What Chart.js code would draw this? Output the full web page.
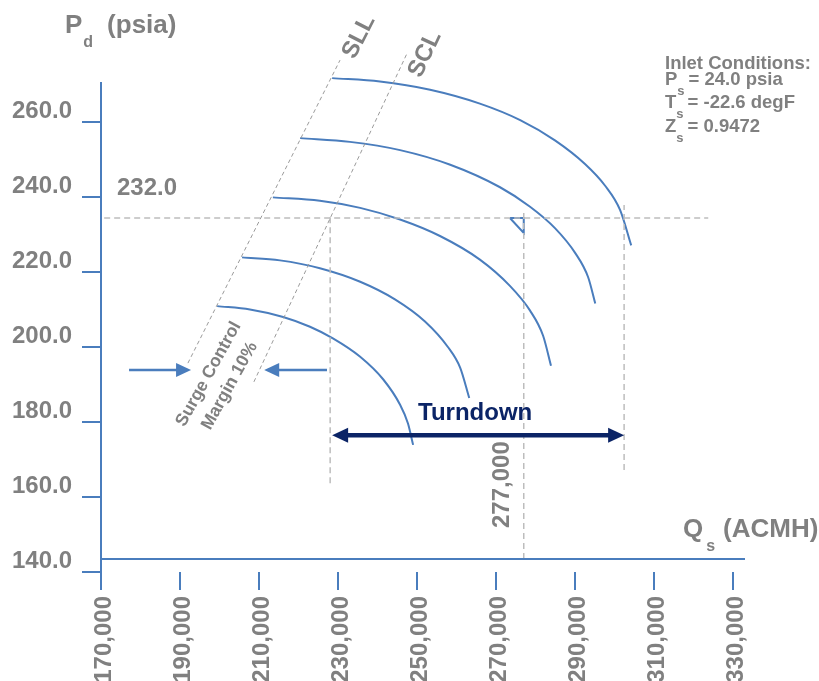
<!DOCTYPE html>
<html>
<head>
<meta charset="utf-8">
<script src="https://cdn.jsdelivr.net/npm/chart.js@4.4.1/dist/chart.umd.min.js"></script>
<style>
  html, body { margin: 0; padding: 0; background: #fff; }
  canvas { display: block; }
</style>
</head>
<body>
<canvas id="compressor-map" width="819" height="681"></canvas>
<script>
const qTicks = [170000, 190000, 210000, 230000, 250000, 270000, 290000, 310000, 330000];
const pTicks = [140, 160, 180, 200, 220, 240, 260];

// speed lines, Qs (ACMH) vs Pd (psia)
const speed1Q = [228500, 240600, 253300, 265900, 276100, 284900, 292500, 297600, 301400, 304200];
const speed1P = [271.7, 270.8, 268.6, 264.9, 260.5, 255.1, 248.8, 243.0, 236.5, 227.1];
const speed2Q = [220400, 233000, 245700, 258400, 271000, 278600, 284900, 290000, 293300, 295100];
const speed2P = [255.7, 254.7, 252.5, 248.6, 242.6, 237.4, 231.7, 225.1, 218.6, 211.6];
const speed3Q = [213500, 225400, 235600, 245700, 255800, 265900, 273500, 278600, 281900, 283900];
const speed3P = [239.9, 239.0, 237.1, 234.0, 229.6, 223.3, 216.3, 209.7, 203.0, 195.0];
const speed4Q = [205700, 215300, 225400, 235600, 244400, 252000, 257800, 260900, 263200];
const speed4P = [223.9, 223.1, 221.0, 217.4, 212.7, 206.8, 200.0, 194.5, 186.4];
const speed5Q = [199400, 207700, 216100, 222900, 228700, 235600, 241400, 245700, 247700, 249000];
const speed5P = [210.9, 210.0, 208.0, 205.4, 202.3, 197.4, 191.4, 184.6, 179.6, 173.9];

// surge limit / surge control lines
const sllQ = [192000, 230500];
const sllP = [195.7, 276.5];
const sclQ = [208700, 247500];
const sclP = [190.7, 278.4];

// operating point guides
const ratedP = 234.4;
const ratedQ = [170800, 323700];
const surgeQ = 228000;
const surgeP = [163.7, 235.7];
const opQ = 277000;
const opP = [143.5, 236.5];
const chokeQ = 302400;
const chokeP = [167.2, 237.9];
const markQ = [273500, 277000, 277000, 273500];
const markP = [234.4, 234.4, 230.4, 234.4];

// arrows
const turndownQ = [228500, 302400];
const turndownP = 176.5;
const marginInQ = [177100, 192800];
const marginOutQ = [227200, 211300];
const marginP = 193.9;

const axisQ = [170000, 333000];
const axisP = 143.5;

const BLUE = '#4a7dbd';
const GREY = '#808080';
const NAVY = '#0b2466';
const FONT = '"Liberation Sans", Arial, Helvetica, sans-serif';

function pts(xs, ys) {
  return xs.map((x, i) => ({ x, y: Array.isArray(ys) ? ys[i] : ys }));
}

function line(data, extra) {
  return Object.assign({
    data, borderColor: BLUE, borderWidth: 2, pointRadius: 0,
    fill: false, clip: false, tension: 0
  }, extra);
}

function curve(q, p) {
  return line(pts(q, p), { cubicInterpolationMode: 'monotone' });
}

function arrow(q, p, opts) {
  return { data: pts(q, p), showLine: false, pointRadius: 0, clip: false, arrow: opts };
}

const dashLight = { borderColor: '#bdbdbd', borderWidth: 1.5, borderDash: [6, 4] };
const dashDark = { borderColor: '#9a9a9a', borderWidth: 1, borderDash: [4, 3] };

const arrowPlugin = {
  id: 'arrows',
  afterDatasetsDraw(chart) {
    const ctx = chart.ctx;
    chart.data.datasets.forEach((ds, i) => {
      if (!ds.arrow) return;
      const o = ds.arrow;
      const el = chart.getDatasetMeta(i).data;
      const a = el[0], b = el[el.length - 1];
      const dx = b.x - a.x, dy = b.y - a.y, L = Math.hypot(dx, dy);
      const ux = dx / L, uy = dy / L;
      const s0 = o.both ? o.len - 1 : 0, s1 = o.len - 1;
      ctx.save();
      ctx.strokeStyle = o.color;
      ctx.fillStyle = o.color;
      ctx.lineWidth = o.width;
      ctx.beginPath();
      ctx.moveTo(a.x + ux * s0, a.y + uy * s0);
      ctx.lineTo(b.x - ux * s1, b.y - uy * s1);
      ctx.stroke();
      const head = (tx, ty, vx, vy) => {
        ctx.beginPath();
        ctx.moveTo(tx, ty);
        ctx.lineTo(tx - vx * o.len - vy * o.half, ty - vy * o.len + vx * o.half);
        ctx.lineTo(tx - vx * o.len + vy * o.half, ty - vy * o.len - vx * o.half);
        ctx.closePath();
        ctx.fill();
      };
      head(b.x, b.y, ux, uy);
      if (o.both) head(a.x, a.y, -ux, -uy);
      ctx.restore();
    });
  }
};

function rich(ctx, x, y, parts) {
  let cx = x;
  parts.forEach(p => {
    ctx.font = 'bold ' + p.size + 'px ' + FONT;
    ctx.fillText(p.t, cx, y + (p.dy || 0));
    cx += ctx.measureText(p.t).width + (p.gap || 0);
  });
}

function rotText(ctx, lines, x, y, deg, size, color, spacing) {
  ctx.save();
  ctx.translate(x, y);
  ctx.rotate(deg * Math.PI / 180);
  ctx.font = 'bold ' + size + 'px ' + FONT;
  ctx.fillStyle = color;
  ctx.textAlign = 'center';
  ctx.textBaseline = 'middle';
  const off = (lines.length - 1) * spacing / 2;
  lines.forEach((t, i) => ctx.fillText(t, 0, i * spacing - off));
  ctx.restore();
}

const textPlugin = {
  id: 'notes',
  afterDraw(chart) {
    const ctx = chart.ctx;
    const { left, right, top, bottom } = chart.chartArea;
    const X = v => chart.scales.x.getPixelForValue(v);
    const Y = v => chart.scales.y.getPixelForValue(v);
    ctx.save();
    ctx.fillStyle = GREY;
    ctx.textAlign = 'left';
    ctx.textBaseline = 'alphabetic';

    // axis titles
    rich(ctx, left - 36, top - 50, [
      { t: 'P', size: 26, gap: 1 },
      { t: 'd', size: 16, dy: 14, gap: 14 },
      { t: '(psia)', size: 26 }
    ]);
    rich(ctx, right - 62, bottom - 35, [
      { t: 'Q', size: 26, gap: 3 },
      { t: 's', size: 16, dy: 14, gap: 8 },
      { t: '(ACMH)', size: 26 }
    ]);

    // inlet conditions
    const ix = right - 80;
    rich(ctx, ix, top - 14, [{ t: 'Inlet Conditions:', size: 18.5 }]);
    rich(ctx, ix, top + 2, [{ t: 'P', size: 18.5 }, { t: 's', size: 13, dy: 10, gap: 4 }, { t: '= 24.0 psia', size: 18.5 }]);
    rich(ctx, ix, top + 25, [{ t: 'T', size: 18.5 }, { t: 's', size: 13, dy: 10, gap: 4 }, { t: '= -22.6 degF', size: 18.5 }]);
    rich(ctx, ix, top + 49, [{ t: 'Z', size: 18.5 }, { t: 's', size: 13, dy: 10, gap: 4 }, { t: '= 0.9472', size: 18.5 }]);

    // value labels
    ctx.font = 'bold 24px ' + FONT;
    ctx.fillText('232.0', X(174050), Y(240.5));
    rotText(ctx, ['277,000'], X(271500), Y(163.3), -90, 24, GREY, 0);
    rotText(ctx, ['SLL'], X(235300), Y(282.7), -63, 24, GREY, 0);
    rotText(ctx, ['SCL'], X(252000), Y(278.1), -65, 24, GREY, 0);
    rotText(ctx, ['Surge Control', 'Margin 10%'], X(199900), Y(191.2), -61, 17.5, GREY, 24);

    ctx.fillStyle = NAVY;
    ctx.textAlign = 'center';
    ctx.font = 'bold 24px ' + FONT;
    ctx.fillText('Turndown', X(264700), Y(180.5));
    ctx.restore();
  }
};

const tickFont = { family: FONT, size: 24, weight: 'bold' };

new Chart(document.getElementById('compressor-map'), {
  type: 'line',
  data: {
    datasets: [
      line(pts(axisQ, axisP), {}),
      line(pts(sllQ, sllP), dashDark),
      line(pts(sclQ, sclP), dashDark),
      line(pts(ratedQ, ratedP), dashLight),
      line(pts([surgeQ, surgeQ], surgeP), dashLight),
      line(pts([opQ, opQ], opP), dashLight),
      line(pts([chokeQ, chokeQ], chokeP), dashLight),
      line(pts(markQ, markP), {}),
      curve(speed1Q, speed1P),
      curve(speed2Q, speed2P),
      curve(speed3Q, speed3P),
      curve(speed4Q, speed4P),
      curve(speed5Q, speed5P),
      arrow(turndownQ, turndownP, { both: true, color: NAVY, width: 4.5, len: 16, half: 7.5 }),
      arrow(marginInQ, marginP, { both: false, color: BLUE, width: 2.5, len: 15, half: 7 }),
      arrow(marginOutQ, marginP, { both: false, color: BLUE, width: 2.5, len: 15, half: 7 })
    ]
  },
  options: {
    responsive: false,
    animation: false,
    layout: { padding: { top: 83, right: 74, left: 0, bottom: 0 } },
    plugins: {
      legend: { display: false },
      tooltip: { enabled: false }
    },
    scales: {
      x: {
        type: 'linear',
        min: 170000,
        max: 333000,
        afterBuildTicks: s => { s.ticks = qTicks.map(v => ({ value: v })); },
        afterFit: s => { s.height = 109; },
        border: { display: false },
        grid: { drawOnChartArea: false, drawTicks: true, tickLength: 18, color: BLUE, lineWidth: 2 },
        ticks: {
          autoSkip: false,
          minRotation: 90,
          maxRotation: 90,
          padding: 6,
          labelOffset: 3,
          color: GREY,
          font: tickFont,
          callback: v => v.toLocaleString('en-US')
        }
      },
      y: {
        type: 'linear',
        min: 140,
        max: 270.4,
        afterBuildTicks: s => { s.ticks = pTicks.map(v => ({ value: v })); },
        afterFit: s => { s.width = 101; },
        border: { display: true, color: BLUE, width: 2 },
        grid: { drawOnChartArea: false, drawTicks: true, tickLength: 19, color: BLUE, lineWidth: 2 },
        ticks: {
          padding: 10,
          labelOffset: -11,
          color: GREY,
          font: tickFont,
          callback: v => Number(v).toFixed(1)
        }
      }
    }
  },
  plugins: [arrowPlugin, textPlugin]
});
</script>
</body>
</html>
